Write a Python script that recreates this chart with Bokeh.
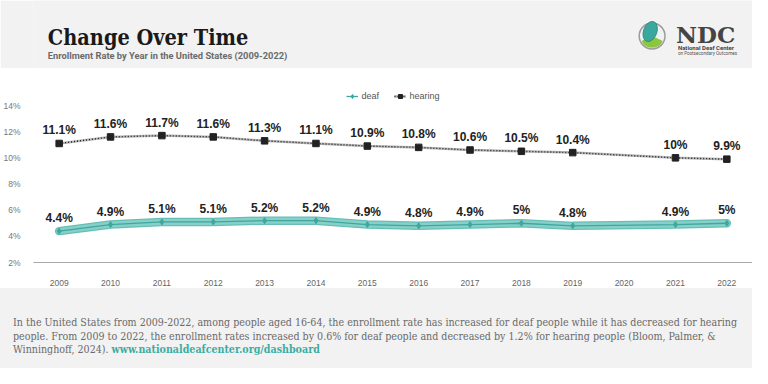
import math
from bokeh.plotting import figure
from bokeh.layouts import column
from bokeh.models import Range1d, FixedTicker, ColumnDataSource, Legend, LegendItem, Div
from bokeh.core.properties import value
from bokeh.embed import file_html
from bokeh.resources import INLINE

# ---------------- data ----------------
title = "Change Over Time"
subtitle = "Enrollment Rate by Year in the United States (2009-2022)"
years = [2009, 2010, 2011, 2012, 2013, 2014, 2015, 2016, 2017, 2018, 2019, 2020, 2021, 2022]
deaf = [4.4, 4.9, 5.1, 5.1, 5.2, 5.2, 4.9, 4.8, 4.9, 5.0, 4.8, None, 4.9, 5.0]
hearing = [11.1, 11.6, 11.7, 11.6, 11.3, 11.1, 10.9, 10.8, 10.6, 10.5, 10.4, None, 10.0, 9.9]
series_names = ["deaf", "hearing"]
y_ticks = [2, 4, 6, 8, 10, 12, 14]
y_tick_labels = ["2%", "4%", "6%", "8%", "10%", "12%", "14%"]
x_tick_labels = [str(y) for y in years]
logo_name = "NDC"
logo_line1 = "National Deaf Center"
logo_line2 = "on Postsecondary Outcomes"
footer_lines = [
    "In the United States from 2009-2022, among people aged 16-64, the enrollment rate has increased for deaf people while it has decreased for hearing",
    "people. From 2009 to 2022, the enrollment rates increased by 0.6% for deaf people and decreased by 1.2% for hearing people (Bloom, Palmer, &",
    "Winninghoff, 2024).",
]
footer_link = "www.nationaldeafcenter.org/dashboard"

W = 752
GRAY = "#f2f2f2"
TEAL = "#3fa79e"

def fmt(v):
    return f"{v:g}%"

# ---------------- header ----------------
HH = 68
hdr = figure(width=W, height=HH, x_range=Range1d(0, W), y_range=Range1d(0, HH),
             output_backend="svg", toolbar_location=None, min_border=0,
             x_axis_location=None, y_axis_location=None,
             background_fill_color=GRAY, border_fill_color=GRAY, outline_line_color=None)
hdr.grid.visible = False
hdr.text(x=[15], y=[31], text=[title], text_font=value("DejaVu Serif Condensed"),
         text_font_style="bold", text_font_size="21.5px", text_color="#1a1a1a",
         text_baseline="alphabetic")
hdr.text(x=[15], y=[13], text=[subtitle], text_font=value("Roboto"),
         text_font_style="bold", text_font_size="9.3px", text_color="#6a6a6a",
         text_baseline="alphabetic")
# logo
hdr.circle(x=[647], y=[32.5], radius=13.5, fill_color="#eef3f1", line_color="#9b9b9b", line_width=1.5)
hdr.wedge(x=[647], y=[32.5], radius=12.3, start_angle=math.radians(205), end_angle=math.radians(335),
          fill_color="#8cc63f", line_color=None)
hdr.ellipse(x=[645], y=[37], width=14, height=21, angle=-0.35, fill_color="#3aa89f", line_color="#2a7f78", line_width=0.8)
hdr.text(x=[672], y=[34], text=[logo_name], text_font=value("DejaVu Serif"), text_font_style="bold",
         text_font_size="23px", text_color="#444444", text_baseline="alphabetic")
hdr.text(x=[674], y=[21], text=[logo_line1], text_font=value("Roboto"), text_font_style="bold",
         text_font_size="6px", text_color="#444444", text_baseline="alphabetic")
hdr.text(x=[674], y=[15.5], text=[logo_line2], text_font=value("Roboto"),
         text_font_size="4.6px", text_color="#555555", text_baseline="alphabetic")

# ---------------- chart ----------------
CH = 220
p = figure(width=W, height=CH, x_range=Range1d(2008.5, 2022.5), y_range=Range1d(2, 16.83),
           output_backend="svg", toolbar_location=None,
           min_border_left=24, min_border_right=0, min_border_top=0, min_border_bottom=26,
           background_fill_color="white", border_fill_color="white", outline_line_color=None)
p.grid.visible = False

dx = [y for y, v in zip(years, deaf) if v is not None]
dv = [v for v in deaf if v is not None]
hx = [y for y, v in zip(years, hearing) if v is not None]
hv = [v for v in hearing if v is not None]
dsrc = ColumnDataSource(dict(x=dx, y=dv, lab=[fmt(v) for v in dv]))
hsrc = ColumnDataSource(dict(x=hx, y=hv, lab=[fmt(v) for v in hv]))

# hearing
h_bg = p.line("x", "y", source=hsrc, line_color="#b5b5b5", line_width=2.5)
h_dot = p.line("x", "y", source=hsrc, line_color="#222222", line_width=1.4, line_dash="1 2")
h_mk = p.scatter("x", "y", source=hsrc, marker="square", size=6.5, fill_color="#222222", line_color="#222222")
# deaf
d_band_o = p.line("x", "y", source=dsrc, line_color="#66bfb7", line_width=8.5, line_cap="round", line_join="round")
d_band = p.line("x", "y", source=dsrc, line_color="#86d0c9", line_width=6, line_cap="round", line_join="round")
d_ln = p.line("x", "y", source=dsrc, line_color=TEAL, line_width=1.3)
d_mk = p.scatter("x", "y", source=dsrc, marker="diamond", size=6, fill_color=TEAL, line_color=TEAL)

for src in (hsrc, dsrc):
    p.text("x", "y", text="lab", source=src, text_align="center", text_baseline="bottom",
           y_offset=-6, text_font=value("Liberation Sans"), text_font_style="bold",
           text_font_size="12px", text_color="#222222")

legend = Legend(items=[LegendItem(label=series_names[0], renderers=[d_ln, d_mk]),
                       LegendItem(label=series_names[1], renderers=[h_bg, h_dot, h_mk])],
                location="top_center", orientation="horizontal")
legend.background_fill_alpha = 0
legend.border_line_color = None
legend.label_text_font = "Liberation Sans"
legend.label_text_font_size = "9px"
legend.label_text_color = "#555555"
legend.glyph_width = 12
legend.glyph_height = 10
legend.label_standoff = 4
legend.spacing = 12
legend.padding = 0
legend.margin = 23
p.add_layout(legend)

p.xaxis.ticker = FixedTicker(ticks=years)
p.xaxis.major_label_overrides = {y: s for y, s in zip(years, x_tick_labels)}
p.xaxis.axis_line_color = "#a8a8a8"
p.xaxis.axis_line_width = 1.2
p.xaxis.major_tick_line_color = None
p.xaxis.minor_tick_line_color = None
p.xaxis.major_label_standoff = 11
p.xaxis.major_label_text_font = "Liberation Sans"
p.xaxis.major_label_text_font_size = "8.5px"
p.xaxis.major_label_text_color = "#666666"

p.yaxis.ticker = FixedTicker(ticks=y_ticks)
p.yaxis.major_label_overrides = {t: s for t, s in zip(y_ticks, y_tick_labels)}
p.yaxis.axis_line_color = None
p.yaxis.major_tick_line_color = None
p.yaxis.minor_tick_line_color = None
p.yaxis.major_label_standoff = 7
p.yaxis.major_label_text_font = "Liberation Sans"
p.yaxis.major_label_text_font_size = "8.5px"
p.yaxis.major_label_text_color = "#777777"

# ---------------- footer ----------------
FH = 80
html = ('<div style="padding:28px 0 0 13px; font-family:\'DejaVu Serif Condensed\', serif; '
        'font-size:10.6px; line-height:13.5px; color:#6a6a6a; white-space:nowrap;">'
        + footer_lines[0] + '<br>' + footer_lines[1] + '<br>' + footer_lines[2]
        + ' <span style="color:#3aada2; font-weight:bold;">' + footer_link + '</span></div>')
foot = Div(text=html, width=W, height=FH, margin=0,
           styles={"background-color": GRAY, "overflow": "hidden"})

layout = column(hdr, p, foot, spacing=0)
open("out.html", "w").write(file_html(layout, INLINE))
